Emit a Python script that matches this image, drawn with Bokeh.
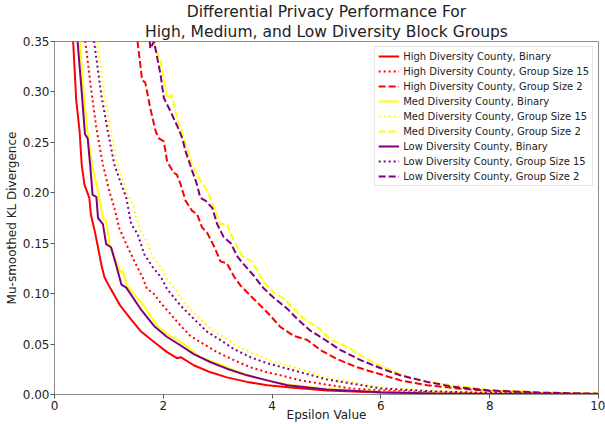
from bokeh.plotting import figure
from bokeh.models import Range1d, Title, Legend, LegendItem, FixedTicker, NumeralTickFormatter
from bokeh.embed import file_html
from bokeh.resources import INLINE

# ---- data ----
high_bin_x = [0.30, 0.34, 0.40, 0.46, 0.50, 0.55, 0.64, 0.67, 0.74, 0.80, 0.86, 0.92, 1.03, 1.21, 1.40, 1.58, 1.83, 2.07, 2.25, 2.32, 2.56, 2.87, 3.17, 3.54, 3.91, 4.40, 5.0, 6.0, 7.0, 8.0, 9.0, 10.0]
high_bin_y = [0.40, 0.353, 0.291, 0.262, 0.228, 0.208, 0.195, 0.178, 0.162, 0.146, 0.129, 0.116, 0.105, 0.088, 0.075, 0.063, 0.052, 0.042, 0.036, 0.037, 0.029, 0.022, 0.017, 0.0125, 0.0092, 0.0066, 0.004, 0.002, 0.001, 0.0006, 0.0003, 0.0002]

med_bin_x = [0.38, 0.46, 0.55, 0.61, 0.70, 0.80, 0.89, 0.95, 1.01, 1.13, 1.21, 1.26, 1.32, 1.41, 1.64, 1.89, 2.13, 2.38, 2.68, 2.99, 3.30, 3.66, 4.03, 4.40, 5.0, 6.0, 7.0, 8.0, 9.0, 10.0]
med_bin_y = [0.40, 0.353, 0.29, 0.258, 0.225, 0.201, 0.175, 0.172, 0.149, 0.132, 0.121, 0.1225, 0.109, 0.103, 0.088, 0.068, 0.058, 0.050, 0.037, 0.031, 0.024, 0.0175, 0.0125, 0.0092, 0.0055, 0.0025, 0.0012, 0.0007, 0.0004, 0.0002]

low_bin_x = [0.36, 0.42, 0.50, 0.56, 0.61, 0.66, 0.70, 0.77, 0.80, 0.89, 0.95, 1.04, 1.13, 1.23, 1.32, 1.58, 1.83, 2.07, 2.32, 2.56, 2.87, 3.17, 3.54, 3.91, 4.28, 5.0, 6.0, 7.0, 8.0, 9.0, 10.0]
low_bin_y = [0.40, 0.353, 0.30, 0.258, 0.254, 0.225, 0.198, 0.196, 0.175, 0.169, 0.149, 0.146, 0.129, 0.109, 0.106, 0.085, 0.068, 0.057, 0.0486, 0.040, 0.032, 0.0256, 0.019, 0.014, 0.0092, 0.005, 0.0022, 0.0011, 0.0006, 0.0003, 0.0002]

high_g15_x = [0.50, 0.56, 0.67, 0.77, 0.89, 1.01, 1.10, 1.19, 1.32, 1.47, 1.62, 1.70, 1.81, 1.95, 2.13, 2.32, 2.50, 2.74, 2.99, 3.30, 3.60, 3.91, 4.28, 4.52, 5.44, 6.0, 7.0, 8.0, 9.0, 10.0]
high_g15_y = [0.40, 0.353, 0.304, 0.264, 0.228, 0.201, 0.185, 0.165, 0.149, 0.132, 0.116, 0.1045, 0.101, 0.091, 0.080, 0.068, 0.058, 0.050, 0.042, 0.034, 0.027, 0.022, 0.0175, 0.014, 0.006, 0.004, 0.002, 0.001, 0.0006, 0.0003]

med_g15_x = [0.70, 0.77, 0.92, 1.07, 1.16, 1.32, 1.44, 1.56, 1.69, 1.81, 1.96, 2.08, 2.24, 2.38, 2.62, 2.87, 3.11, 3.42, 3.73, 4.03, 4.40, 5.0, 6.0, 7.0, 8.0, 9.0, 10.0]
med_g15_y = [0.40, 0.353, 0.297, 0.251, 0.228, 0.201, 0.188, 0.165, 0.152, 0.136, 0.126, 0.113, 0.103, 0.091, 0.078, 0.065, 0.057, 0.046, 0.039, 0.032, 0.027, 0.017, 0.007, 0.0035, 0.0018, 0.0009, 0.0005]

low_g15_x = [0.65, 0.72, 0.86, 0.98, 1.10, 1.23, 1.32, 1.41, 1.53, 1.65, 1.81, 1.96, 2.07, 2.32, 2.56, 2.81, 3.05, 3.30, 3.60, 3.91, 4.28, 5.0, 6.0, 7.0, 8.0, 9.0, 10.0]
low_g15_y = [0.40, 0.353, 0.297, 0.261, 0.228, 0.208, 0.195, 0.169, 0.159, 0.139, 0.126, 0.116, 0.1045, 0.088, 0.075, 0.062, 0.054, 0.045, 0.037, 0.031, 0.0256, 0.015, 0.006, 0.003, 0.0015, 0.0008, 0.0004]

high_g2_x = [1.48, 1.52, 1.61, 1.67, 1.76, 1.86, 1.92, 2.01, 2.07, 2.19, 2.25, 2.32, 2.41, 2.53, 2.62, 2.71, 2.81, 2.95, 3.05, 3.17, 3.30, 3.42, 3.60, 3.79, 3.97, 4.15, 4.40, 4.65, 4.89, 5.20, 5.56, 5.93, 6.36, 6.85, 7.40, 8.0, 9.0, 10.0]
high_g2_y = [0.38, 0.353, 0.312, 0.309, 0.284, 0.261, 0.254, 0.251, 0.231, 0.220, 0.218, 0.208, 0.192, 0.182, 0.179, 0.166, 0.160, 0.145, 0.132, 0.130, 0.117, 0.108, 0.098, 0.088, 0.078, 0.067, 0.058, 0.054, 0.044, 0.035, 0.027, 0.021, 0.014, 0.0092, 0.006, 0.0035, 0.0015, 0.0006]

med_g2_x = [1.80, 1.84, 1.95, 2.07, 2.16, 2.25, 2.32, 2.41, 2.53, 2.68, 2.81, 2.93, 3.05, 3.17, 3.24, 3.45, 3.63, 3.85, 4.03, 4.22, 4.40, 4.58, 4.83, 5.07, 5.38, 5.75, 6.05, 6.42, 6.85, 7.34, 8.0, 9.0, 10.0]
med_g2_y = [0.38, 0.347, 0.330, 0.294, 0.297, 0.274, 0.264, 0.248, 0.228, 0.212, 0.202, 0.185, 0.169, 0.169, 0.159, 0.137, 0.132, 0.111, 0.101, 0.095, 0.085, 0.075, 0.067, 0.055, 0.047, 0.035, 0.027, 0.019, 0.0125, 0.009, 0.0045, 0.002, 0.0009]

low_g2_x = [1.72, 1.76, 1.83, 1.95, 2.01, 2.13, 2.25, 2.35, 2.41, 2.53, 2.62, 2.68, 2.78, 2.90, 2.99, 3.11, 3.24, 3.36, 3.48, 3.66, 3.85, 4.03, 4.28, 4.46, 4.71, 4.95, 5.26, 5.63, 6.0, 6.36, 6.85, 7.34, 8.0, 9.0, 10.0]
low_g2_y = [0.38, 0.343, 0.350, 0.317, 0.294, 0.281, 0.267, 0.254, 0.241, 0.222, 0.208, 0.195, 0.192, 0.185, 0.169, 0.156, 0.150, 0.137, 0.129, 0.118, 0.105, 0.096, 0.085, 0.075, 0.063, 0.055, 0.044, 0.034, 0.026, 0.019, 0.0125, 0.0076, 0.004, 0.0018, 0.0008]

labels = [
    "High Diversity County, Binary",
    "High Diversity County, Group Size 15",
    "High Diversity County, Group Size 2",
    "Med Diversity County, Binary",
    "Med Diversity County, Group Size 15",
    "Med Diversity County, Group Size 2",
    "Low Diversity County, Binary",
    "Low Diversity County, Group Size 15",
    "Low Diversity County, Group Size 2",
]
x_ticks = [0, 2, 4, 6, 8, 10]
y_ticks = [0.0, 0.05, 0.10, 0.15, 0.20, 0.25, 0.30, 0.35]

series = [
    (high_bin_x, high_bin_y), (high_g15_x, high_g15_y), (high_g2_x, high_g2_y),
    (med_bin_x, med_bin_y), (med_g15_x, med_g15_y), (med_g2_x, med_g2_y),
    (low_bin_x, low_bin_y), (low_g15_x, low_g15_y), (low_g2_x, low_g2_y),
]
colors = ["red"] * 3 + ["yellow"] * 3 + ["purple"] * 3
dashes = ["solid", "2 3", "7 3"] * 3

FONT = "DejaVu Sans"
SPINE = "#8c8c8c"

p = figure(width=605, height=424, output_backend="svg", toolbar_location=None,
           x_range=Range1d(0, 10), y_range=Range1d(0, 0.35),
           min_border_left=54, min_border_right=7, min_border_top=0, min_border_bottom=28)
p.background_fill_color = "white"
p.border_fill_color = "white"
p.grid.visible = False
p.outline_line_color = SPINE
p.outline_line_width = 1

p.add_layout(Title(text="High, Medium, and Low Diversity Block Groups", align="center",
                   text_font=FONT, text_font_size="15.5px", text_font_style="normal",
                   text_color="#222222", standoff=1), "above")
p.add_layout(Title(text="Differential Privacy Performance For", align="center",
                   text_font=FONT, text_font_size="15.5px", text_font_style="normal",
                   text_color="#222222", standoff=0), "above")

items = []
for (xs, ys), c, d, lab in zip(series, colors, dashes, labels):
    r = p.line(xs, ys, line_color=c, line_width=2, line_dash=d)
    items.append(LegendItem(label=lab, renderers=[r]))

legend = Legend(items=items, location="top_right", label_text_font=FONT,
                label_text_font_size="10px", label_text_color="#222222",
                glyph_width=21, glyph_height=12, label_height=12, spacing=3,
                label_standoff=4, padding=3, margin=5, border_line_color="#cccccc",
                background_fill_alpha=1.0)
p.add_layout(legend)

for ax in (p.xaxis, p.yaxis):
    ax.major_label_text_font = FONT
    ax.major_label_text_font_size = "12px"
    ax.major_label_text_color = "#222222"
    ax.axis_label_text_font = FONT
    ax.axis_label_text_font_size = "12px"
    ax.axis_label_text_font_style = "normal"
    ax.axis_label_text_color = "#222222"
    ax.minor_tick_line_color = None
    ax.major_tick_in = 0
    ax.major_tick_out = 4
    ax.axis_line_color = SPINE
    ax.major_tick_line_color = "#555555"
    ax.major_label_standoff = 2

p.xaxis.ticker = FixedTicker(ticks=x_ticks)
p.yaxis.ticker = FixedTicker(ticks=y_ticks)
p.yaxis.formatter = NumeralTickFormatter(format="0.00")
p.yaxis.axis_label = "Mu-smoothed KL Divergence"
p.yaxis.axis_label_standoff = 1
p.yaxis.major_label_standoff = 1
p.xaxis.axis_label = "Epsilon Value"
p.xaxis.axis_label_standoff = -5

open("out.html", "w").write(file_html(p, INLINE))
